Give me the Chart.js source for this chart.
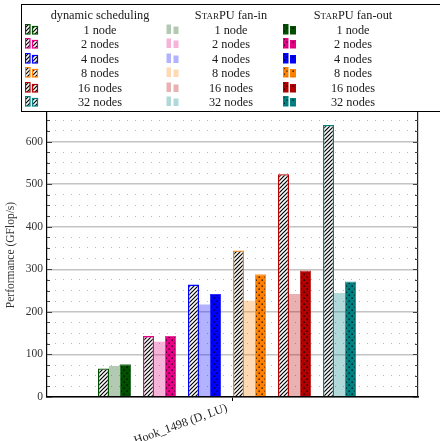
<!DOCTYPE html>
<html>
<head>
<meta charset="utf-8">
<script src="https://cdn.jsdelivr.net/npm/chart.js@4"></script>
<style>
  html, body { margin: 0; padding: 0; background: #fff; }
  #wrap { position: relative; width: 440px; height: 441px; overflow: hidden; font-family: 'Liberation Serif', serif; color: #1a1a1a; }
  #chart { position: absolute; left: 0; top: 0; }
  #legendBox { position: absolute; left: 21px; top: 4px; width: 440px; height: 108px; border: 1.3px solid #000; box-sizing: border-box; }
  .lg { position: absolute; font-size: 12.3px; white-space: nowrap; transform: translate(-50%, -50%); }
  .sc { font-variant: small-caps; }
  .icon { position: absolute; }
</style>
</head>
<body>
<div id="wrap">
  <canvas id="chart" width="440" height="441"></canvas>
  <div id="legendBox"></div>
</div>
<script>
// data
const nodeCounts = ['1 node', '2 nodes', '4 nodes', '8 nodes', '16 nodes', '32 nodes'];
const dynamicScheduling = [67, 143, 264, 344, 523, 639];
const starpuFanIn = [73, 130, 217, 226, 242, 244];
const starpuFanOut = [77, 143, 242, 288, 297, 271];
const nodeColors = ['#005000', '#e60085', '#0000ff', '#ff8000', '#b20000', '#008080'];
const xTickLabels = ['Hook_1498 (D, LU)'];
const xTickPositions = [3.63];
const yMax = 667;

function hexA(hex, a) {
  const n = parseInt(hex.slice(1), 16);
  return 'rgba(' + (n >> 16) + ',' + ((n >> 8) & 255) + ',' + (n & 255) + ',' + a + ')';
}

// hatch pattern (north east lines)
function hatchPattern() {
  const c = document.createElement('canvas');
  c.width = c.height = 4;
  const g = c.getContext('2d');
  g.fillStyle = 'rgba(255,255,255,0.6)';
  g.fillRect(0, 0, 4, 4);
  g.strokeStyle = '#000';
  g.lineWidth = 1.2;
  g.beginPath();
  g.moveTo(0, 4); g.lineTo(4, 0);
  g.moveTo(-1, 1); g.lineTo(1, -1);
  g.moveTo(3, 5); g.lineTo(5, 3);
  g.stroke();
  return g.createPattern(c, 'repeat');
}

// dots on colour
function dotPattern(color) {
  const c = document.createElement('canvas');
  c.width = c.height = 6;
  const g = c.getContext('2d');
  g.fillStyle = color;
  g.fillRect(0, 0, 6, 6);
  g.fillStyle = '#000';
  g.fillRect(0.5, 0.5, 1.3, 1.3);
  g.fillRect(3.5, 3.5, 1.3, 1.3);
  return g.createPattern(c, 'repeat');
}

const hatch = hatchPattern();
const dots = nodeColors.map(dotPattern);

const seriesDefs = [
  { label: 'dynamic scheduling', values: dynamicScheduling,
    bg: nodeColors.map(() => hatch), border: nodeColors, bw: 1.3 },
  { label: 'StarPU fan-in', values: starpuFanIn,
    bg: nodeColors.map(c => hexA(c, 0.3)), border: nodeColors.map(() => 'transparent'), bw: 0 },
  { label: 'StarPU fan-out', values: starpuFanOut,
    bg: dots, border: nodeColors.map(c => hexA(c, 0.8)), bw: 1 }
];

const serif = 'Liberation Serif';

// inward tick marks on both vertical axes
const innerTicks = {
  id: 'innerTicks',
  afterDraw(chart) {
    const { ctx, chartArea } = chart;
    const s = chart.scales.yMinor;
    ctx.save();
    ctx.strokeStyle = '#444';
    ctx.lineWidth = 1;
    s.ticks.forEach(t => {
      const y = Math.round(s.getPixelForValue(t.value)) + 0.5;
      const len = t.value % 100 === 0 ? 5 : 3;
      ctx.beginPath();
      ctx.moveTo(chartArea.left, y); ctx.lineTo(chartArea.left + len, y);
      ctx.moveTo(chartArea.right, y); ctx.lineTo(chartArea.right - len, y);
      ctx.stroke();
    });
    ctx.restore();
  }
};

new Chart(document.getElementById('chart').getContext('2d'), {
  type: 'bar',
  data: {
    datasets: seriesDefs.map(s => ({
      label: s.label,
      data: s.values.map((v, i) => ({ x: i + 1, y: v })),
      backgroundColor: s.bg,
      borderColor: s.border,
      borderWidth: s.bw,
      categoryPercentage: 0.733,
      barPercentage: 1.0
    }))
  },
  options: {
    responsive: false,
    animation: false,
    devicePixelRatio: 1,
    layout: { padding: { top: 113, left: 0, right: 0, bottom: 0 } },
    plugins: { legend: { display: false }, tooltip: { enabled: false } },
    scales: {
      x: {
        type: 'linear',
        min: -0.5,
        max: 7.744,
        offset: false,
        afterBuildTicks: s => { s.ticks = xTickPositions.map(v => ({ value: v })); },
        afterFit: s => { s.height = 44; },
        ticks: {
          autoSkip: false,
          minRotation: 20,
          maxRotation: 20,
          padding: 0,
          labelOffset: -6,
          color: '#222',
          font: { family: serif, size: 12 },
          callback: (v, i) => xTickLabels[i]
        },
        grid: { drawOnChartArea: false, drawTicks: true, tickLength: 4, color: '#000', offset: false },
        border: { color: '#000', width: 1.5 }
      },
      y: {
        position: 'left',
        min: 0,
        max: yMax,
        afterBuildTicks: s => { s.ticks = [0, 100, 200, 300, 400, 500, 600].map(v => ({ value: v })); },
        afterFit: s => { s.width = 47; },
        ticks: { padding: 4, color: '#333', font: { family: serif, size: 11.5 } },
        grid: { color: '#c4c4c4', lineWidth: 1.4, drawTicks: false },
        border: { color: '#000', width: 1.2 },
        title: {
          display: true,
          text: 'Performance (GFlop/s)',
          color: '#333',
          font: { family: serif, size: 11.5 },
          padding: { top: 4, bottom: 0 }
        }
      },
      yMinor: {
        position: 'right',
        min: 0,
        max: yMax,
        afterBuildTicks: s => {
          const t = [];
          for (let v = 0; v <= yMax; v += 25) t.push({ value: v });
          s.ticks = t;
        },
        afterFit: s => { s.width = 22; },
        ticks: { display: false },
        grid: {
          color: c => (c.tick && c.tick.value % 100 === 0) ? 'transparent' : '#b8b8b8',
          lineWidth: 1,
          drawTicks: false
        },
        border: { color: '#222', width: 1.2, dash: [1, 7] }
      }
    }
  },
  plugins: [innerTicks]
});

// legend drawn as html + small canvases
const wrap = document.getElementById('wrap');
const colIcon = [25, 166, 283];
const colText = [100, 231, 353];
const headerY = 15;
const rowY = [29.5, 44, 58.5, 73, 87.5, 102];

function addText(txt, x, y, cls) {
  const d = document.createElement('div');
  d.className = 'lg' + (cls ? ' ' + cls : '');
  d.textContent = txt;
  d.style.left = x + 'px';
  d.style.top = y + 'px';
  wrap.appendChild(d);
}

function addIcon(x, y, fill, border, bw) {
  const c = document.createElement('canvas');
  c.width = 14; c.height = 11;
  c.className = 'icon';
  c.style.left = x + 'px';
  c.style.top = (y - 6) + 'px';
  const g = c.getContext('2d');
  [[0.5, 0.5, 4.5, 9.5], [7.5, 2.5, 5, 7.5]].forEach(r => {
    g.fillStyle = fill;
    g.fillRect(r[0], r[1], r[2], r[3]);
    if (bw) {
      g.strokeStyle = border;
      g.lineWidth = bw;
      g.strokeRect(r[0], r[1], r[2], r[3]);
    }
  });
  wrap.appendChild(c);
}

seriesDefs.forEach((s, k) => {
  if (s.label.startsWith('StarPU')) {
    const d = document.createElement('div');
    d.className = 'lg';
    d.innerHTML = '<span class="sc">StarPU</span>' + s.label.slice(6);
    d.style.left = colText[k] + 'px';
    d.style.top = headerY + 'px';
    wrap.appendChild(d);
  } else {
    addText(s.label, colText[k], headerY);
  }
  nodeCounts.forEach((n, i) => {
    const fill = k === 0 ? hatchPattern() : (k === 1 ? hexA(nodeColors[i], 0.3) : dotPattern(nodeColors[i]));
    addIcon(colIcon[k], rowY[i], fill, k === 1 ? null : nodeColors[i], k === 0 ? 1.2 : (k === 2 ? 1 : 0));
    addText(n, colText[k], rowY[i]);
  });
});
</script>
</body>
</html>
